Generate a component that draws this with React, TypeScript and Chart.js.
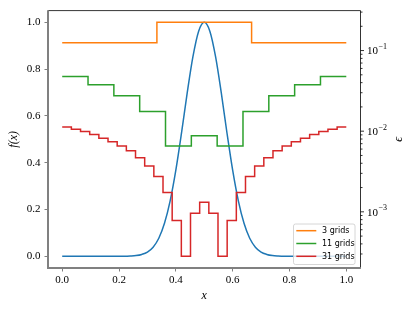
import React, { useEffect, useRef } from 'react';
import { Chart, registerables } from 'chart.js';

Chart.register(...registerables);

// ---- data ----
const xTickValues = [0, 0.2, 0.4, 0.6, 0.8, 1.0];
const fTickValues = [0, 0.2, 0.4, 0.6, 0.8, 1.0];

const curveF = [
  0, 0, 0, 0, 0, 0, 0, 0, 0, 0,
  0.0, 0.0, 0.001, 0.003, 0.008, 0.018, 0.039, 0.077, 0.141, 0.237,
  0.368, 0.527, 0.698, 0.852, 0.961, 1.0, 0.961, 0.852, 0.698, 0.527,
  0.368, 0.237, 0.141, 0.077, 0.039, 0.018, 0.008, 0.003, 0.001, 0.0,
  0.0, 0, 0, 0, 0, 0, 0, 0, 0, 0, 0,
];

// error per grid cell (right, log axis)
const err3 = [0.1247, 0.2244, 0.1247];
const err11 = [0.0475, 0.0376, 0.0275, 0.0175, 0.00653, 0.00875, 0.00653, 0.0175, 0.0275, 0.0376, 0.0475];
const err31 = [
  0.0113, 0.0106, 0.00991, 0.0091, 0.0082, 0.00738, 0.00653, 0.00571, 0.00469, 0.00371,
  0.00274, 0.00174, 0.000779, 0.000281, 0.000959, 0.00131, 0.000959, 0.000281, 0.000779, 0.00174,
  0.00274, 0.00371, 0.00469, 0.00571, 0.00653, 0.00738, 0.0082, 0.0091, 0.00991, 0.0106, 0.0113,
];
const seriesLabels = ['3 grids', '11 grids', '31 grids'];
const seriesColors = ['#ff7f0e', '#2ca02c', '#d62728'];

// one point at the left edge of every cell, plus the closing point at x = 1
function stepPoints(vals: number[]) {
  const n = vals.length;
  const pts = vals.map((v, i) => ({ x: i / n, y: v }));
  pts.push({ x: 1, y: vals[n - 1] });
  return pts;
}

const SERIF = '"Liberation Serif", "DejaVu Serif", serif';
const GRAY = '#808080';

const decor = {
  id: 'decor',
  afterDraw(chart: any) {
    const { ctx, chartArea: a } = chart;
    const y2 = chart.scales.y2;
    ctx.save();

    // spines
    ctx.lineCap = 'butt';
    ctx.strokeStyle = '#000';
    ctx.lineWidth = 0.8;
    ctx.beginPath();
    ctx.moveTo(a.left, a.top);
    ctx.lineTo(a.right, a.top);
    ctx.lineTo(a.right, a.bottom);
    ctx.stroke();
    ctx.strokeStyle = GRAY;
    ctx.lineWidth = 2;
    ctx.beginPath();
    ctx.moveTo(a.left, a.top - 0.4);
    ctx.lineTo(a.left, a.bottom);
    ctx.lineTo(a.right + 0.4, a.bottom);
    ctx.stroke();

    // right log-axis ticks and labels
    ctx.strokeStyle = '#000';
    ctx.lineWidth = 0.8;
    ctx.fillStyle = '#000';
    y2.ticks.forEach((t: any) => {
      const py = y2.getPixelForValue(t.value);
      const len = t.major ? 3.5 : 2;
      ctx.beginPath();
      ctx.moveTo(a.right, py);
      ctx.lineTo(a.right + len, py);
      ctx.stroke();
      if (t.major) {
        const e = Math.round(Math.log10(t.value));
        ctx.font = `11px ${SERIF}`;
        ctx.textAlign = 'left';
        ctx.textBaseline = 'middle';
        const x0 = a.right + 6.5;
        ctx.fillText('10', x0, py + 1);
        const w = ctx.measureText('10').width;
        ctx.font = `8px ${SERIF}`;
        ctx.fillText((e < 0 ? '\u2212' : '') + Math.abs(e), x0 + w + 0.5, py - 3.5);
      }
    });

    // axis titles
    ctx.fillStyle = '#000';
    ctx.textAlign = 'center';
    ctx.textBaseline = 'middle';
    ctx.font = `italic 12px ${SERIF}`;
    ctx.fillText('x', (a.left + a.right) / 2, 295.5);
    const midY = (a.top + a.bottom) / 2;
    ctx.save();
    ctx.translate(14, midY);
    ctx.rotate(-Math.PI / 2);
    ctx.fillText('f(x)', 0, 0);
    ctx.restore();
    ctx.save();
    ctx.translate(399, midY);
    ctx.rotate(-Math.PI / 2);
    ctx.font = `italic 12px ${SERIF}`;
    ctx.fillText('\u03f5', 0, 0);
    ctx.restore();

    // legend (lower right, inside axes)
    const bw = 61.5;
    const bh = 40.5;
    const bx = a.right - 5.5 - bw;
    const by = a.bottom - 3.5 - bh;
    ctx.fillStyle = 'rgba(255,255,255,0.8)';
    ctx.strokeStyle = '#cccccc';
    ctx.lineWidth = 0.8;
    ctx.beginPath();
    if ((ctx as any).roundRect) (ctx as any).roundRect(bx, by, bw, bh, 2);
    else ctx.rect(bx, by, bw, bh);
    ctx.fill();
    ctx.stroke();
    ctx.font = '8px "DejaVu Sans", sans-serif';
    ctx.textAlign = 'left';
    ctx.textBaseline = 'middle';
    seriesLabels.forEach((lab, i) => {
      const yy = by + 6.7 + i * 12.8;
      ctx.strokeStyle = seriesColors[i];
      ctx.lineWidth = 1.5;
      ctx.beginPath();
      ctx.moveTo(bx + 2.8, yy);
      ctx.lineTo(bx + 22.8, yy);
      ctx.stroke();
      ctx.fillStyle = '#000';
      ctx.fillText(lab, bx + 28.5, yy + 0.5);
    });

    ctx.restore();
  },
};

export default function App() {
  const ref = useRef<HTMLCanvasElement | null>(null);

  useEffect(() => {
    document.body.style.margin = '0';
    const canvas = ref.current;
    if (!canvas) return;
    const curveX = curveF.map((_, i) => i / (curveF.length - 1));
    const errs = [err3, err11, err31];

    const datasets: any[] = errs.map((vals, i) => ({
      label: seriesLabels[i],
      data: stepPoints(vals),
      yAxisID: 'y2',
      borderColor: seriesColors[i],
      backgroundColor: seriesColors[i],
      borderWidth: 1.5,
      pointRadius: 0,
      stepped: 'before',
      fill: false,
      order: 3 - i,
    }));
    datasets.push({
      label: 'f',
      data: curveX.map((x, i) => ({ x, y: curveF[i] })),
      yAxisID: 'y',
      borderColor: '#1f77b4',
      backgroundColor: '#1f77b4',
      borderWidth: 1.5,
      pointRadius: 0,
      cubicInterpolationMode: 'monotone',
      fill: false,
      order: 10,
    });

    const chart = new Chart(canvas, {
      type: 'line',
      data: { datasets },
      options: {
        animation: false,
        responsive: false,
        maintainAspectRatio: false,
        devicePixelRatio: 1,
        layout: { padding: { top: 9.5, left: 0, right: 0, bottom: 0 } },
        plugins: { legend: { display: false }, tooltip: { enabled: false } },
        scales: {
          x: {
            type: 'linear',
            min: -0.05,
            max: 1.05,
            afterBuildTicks: (s: any) => {
              s.ticks = xTickValues.map((v) => ({ value: v }));
            },
            afterFit: (s: any) => {
              s.height = 43;
            },
            border: { display: false },
            grid: { display: true, drawOnChartArea: false, drawTicks: true, tickLength: 3.5, tickColor: GRAY, tickWidth: 1 },
            ticks: {
              color: '#000',
              padding: 2.5,
              maxRotation: 0,
              font: { family: SERIF, size: 11 },
              callback: (v: any) => Number(v).toFixed(1),
            },
          },
          y: {
            type: 'linear',
            position: 'left',
            min: -0.05,
            max: 1.05,
            afterBuildTicks: (s: any) => {
              s.ticks = fTickValues.map((v) => ({ value: v }));
            },
            afterFit: (s: any) => {
              s.width = 48;
            },
            border: { display: false },
            grid: { display: true, drawOnChartArea: false, drawTicks: true, tickLength: 3.5, tickColor: GRAY, tickWidth: 1 },
            ticks: {
              color: '#000',
              padding: 4,
              font: { family: SERIF, size: 11 },
              callback: (v: any) => Number(v).toFixed(1),
            },
          },
          y2: {
            type: 'logarithmic',
            position: 'right',
            min: 2.01e-4,
            max: 0.313,
            afterBuildTicks: (s: any) => {
              const t: any[] = [];
              for (let e = -4; e <= 0; e++) {
                for (let m = 1; m <= 9; m++) {
                  const v = m * Math.pow(10, e);
                  if (v >= s.min && v <= s.max) t.push({ value: v, major: m === 1 });
                }
              }
              s.ticks = t;
            },
            afterFit: (s: any) => {
              s.width = 54.5;
            },
            border: { display: false },
            grid: { display: false },
            ticks: { display: false },
          },
        },
      },
      plugins: [decor],
    } as any);

    return () => chart.destroy();
  }, []);

  return (
    <div style={{ width: 415, height: 311 }}>
      <canvas ref={ref} width={415} height={311} style={{ display: 'block' }} />
    </div>
  );
}
